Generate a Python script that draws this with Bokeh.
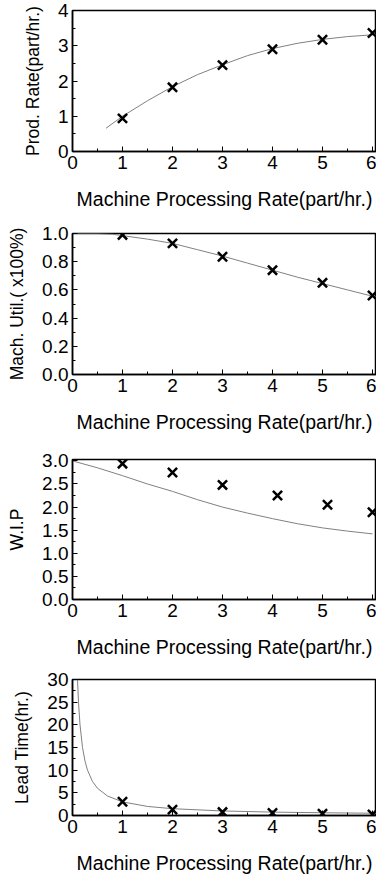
from bokeh.plotting import figure
from bokeh.layouts import column
from bokeh.models import Range1d, FixedTicker, PrintfTickFormatter
from bokeh.embed import file_html
from bokeh.resources import INLINE

# ---- data ----
pts_x = [1, 2, 3, 4, 5, 6]

prod_pts = [0.94, 1.82, 2.45, 2.90, 3.17, 3.36]
prod_line_x = [0.67, 1.0, 1.5, 2.0, 2.5, 3.0, 3.5, 4.0, 4.5, 5.0, 5.5, 6.0, 6.08]
prod_line_y = [0.66, 1.0, 1.44, 1.84, 2.18, 2.46, 2.72, 2.92, 3.07, 3.18, 3.26, 3.31, 3.32]

util_pts = [0.99, 0.93, 0.835, 0.74, 0.65, 0.56]
util_line_x = [0, 0.5, 0.8, 1.0, 1.5, 2.0, 2.5, 3.0, 3.5, 4.0, 4.5, 5.0, 5.5, 6.0, 6.08]
util_line_y = [1.0, 1.0, 0.995, 0.985, 0.96, 0.93, 0.885, 0.84, 0.79, 0.74, 0.69, 0.645, 0.6, 0.555, 0.55]

wip_pts_x = [1, 2, 3, 4.1, 5.1, 6]
wip_pts = [2.94, 2.75, 2.48, 2.25, 2.05, 1.89]
wip_line_x = [0, 0.5, 1.0, 1.5, 2.0, 2.5, 3.0, 3.5, 4.0, 4.5, 5.0, 5.5, 6.0]
wip_line_y = [3.0, 2.85, 2.68, 2.5, 2.34, 2.16, 2.0, 1.87, 1.75, 1.64, 1.55, 1.48, 1.42]

lead_pts = [3.05, 1.3, 0.75, 0.55, 0.4, 0.25]
lead_line_x = [0.1, 0.12, 0.15, 0.2, 0.25, 0.3, 0.4, 0.5, 0.7, 1.0, 1.5, 2.0, 3.0, 4.0, 5.0, 6.0, 6.08]
lead_line_y = [30, 25, 20, 15, 12, 10, 7.5, 6, 4.3, 3.0, 2.0, 1.5, 1.0, 0.75, 0.6, 0.5, 0.49]

x_ticks = [0, 1, 2, 3, 4, 5, 6]
x_label = "Machine Processing Rate(part/hr.)"

FONT = "Liberation Sans"


def make(ylabel, ymax, yticks, yfmt, lx, ly, px, py, top, frame_h, bottom):
    p = figure(width=376, height=top + frame_h + bottom,
               output_backend="svg", toolbar_location=None,
               x_range=Range1d(0, 6.08), y_range=Range1d(0, ymax),
               min_border_left=72, min_border_right=0, min_border_top=top,
               min_border_bottom=bottom)
    p.grid.visible = False
    p.outline_line_color = "black"
    p.outline_line_width = 1.5
    p.background_fill_color = "white"
    p.border_fill_color = "white"

    p.xaxis.ticker = FixedTicker(ticks=x_ticks, minor_ticks=[i * 0.5 for i in range(13)])
    p.yaxis.ticker = FixedTicker(ticks=yticks,
                                 minor_ticks=[yticks[0] + (yticks[1] - yticks[0]) * i / 2
                                              for i in range(2 * (len(yticks) - 1) + 1)])
    if yfmt:
        p.yaxis.formatter = PrintfTickFormatter(format=yfmt)
    for ax in (p.xaxis[0], p.yaxis[0]):
        ax.axis_line_color = "black"
        ax.axis_line_width = 1.5
        ax.major_tick_in = 5
        ax.major_tick_out = 0
        ax.minor_tick_in = 3
        ax.minor_tick_out = 0
        ax.major_tick_line_color = "black"
        ax.minor_tick_line_color = "black"
        ax.major_label_text_font = FONT
        ax.major_label_text_font_size = "19px"
        ax.major_label_text_color = "black"
        ax.axis_label_text_font = FONT
        ax.axis_label_text_font_style = "normal"
        ax.axis_label_text_color = "black"
    p.xaxis.axis_label = x_label
    p.xaxis.axis_label_text_font_size = "19.5px"
    p.xaxis.axis_label_standoff = 16
    p.xaxis.major_label_standoff = 4
    p.yaxis.axis_label = ylabel
    p.yaxis.axis_label_text_font_size = "17.5px"
    p.yaxis.axis_label_standoff = 12
    p.yaxis.major_label_standoff = 4

    p.line(lx, ly, line_color="#808080", line_width=1)
    p.scatter(px, py, marker="x", size=13, line_color="black", line_width=2.5)
    return p


p1 = make("Prod. Rate(part/hr.)", 4, [0, 1, 2, 3, 4], None,
          prod_line_x, prod_line_y, pts_x, prod_pts, 10, 141, 71)
p2 = make("Mach. Util.( x100%)", 1.0, [0, 0.2, 0.4, 0.6, 0.8, 1.0], "%.1f",
          util_line_x, util_line_y, pts_x, util_pts, 11, 141, 74)
p3 = make("W.I.P", 3.03, [0, 0.5, 1.0, 1.5, 2.0, 2.5, 3.0], "%.1f",
          wip_line_x, wip_line_y, wip_pts_x, wip_pts, 11, 140, 69)
p4 = make("Lead Time(hr.)", 30, [0, 5, 10, 15, 20, 25, 30], None,
          lead_line_x, lead_line_y, pts_x, lead_pts, 11, 138, 59)

layout = column(p1, p2, p3, p4, spacing=0)
open("out.html", "w").write(file_html(layout, INLINE))
